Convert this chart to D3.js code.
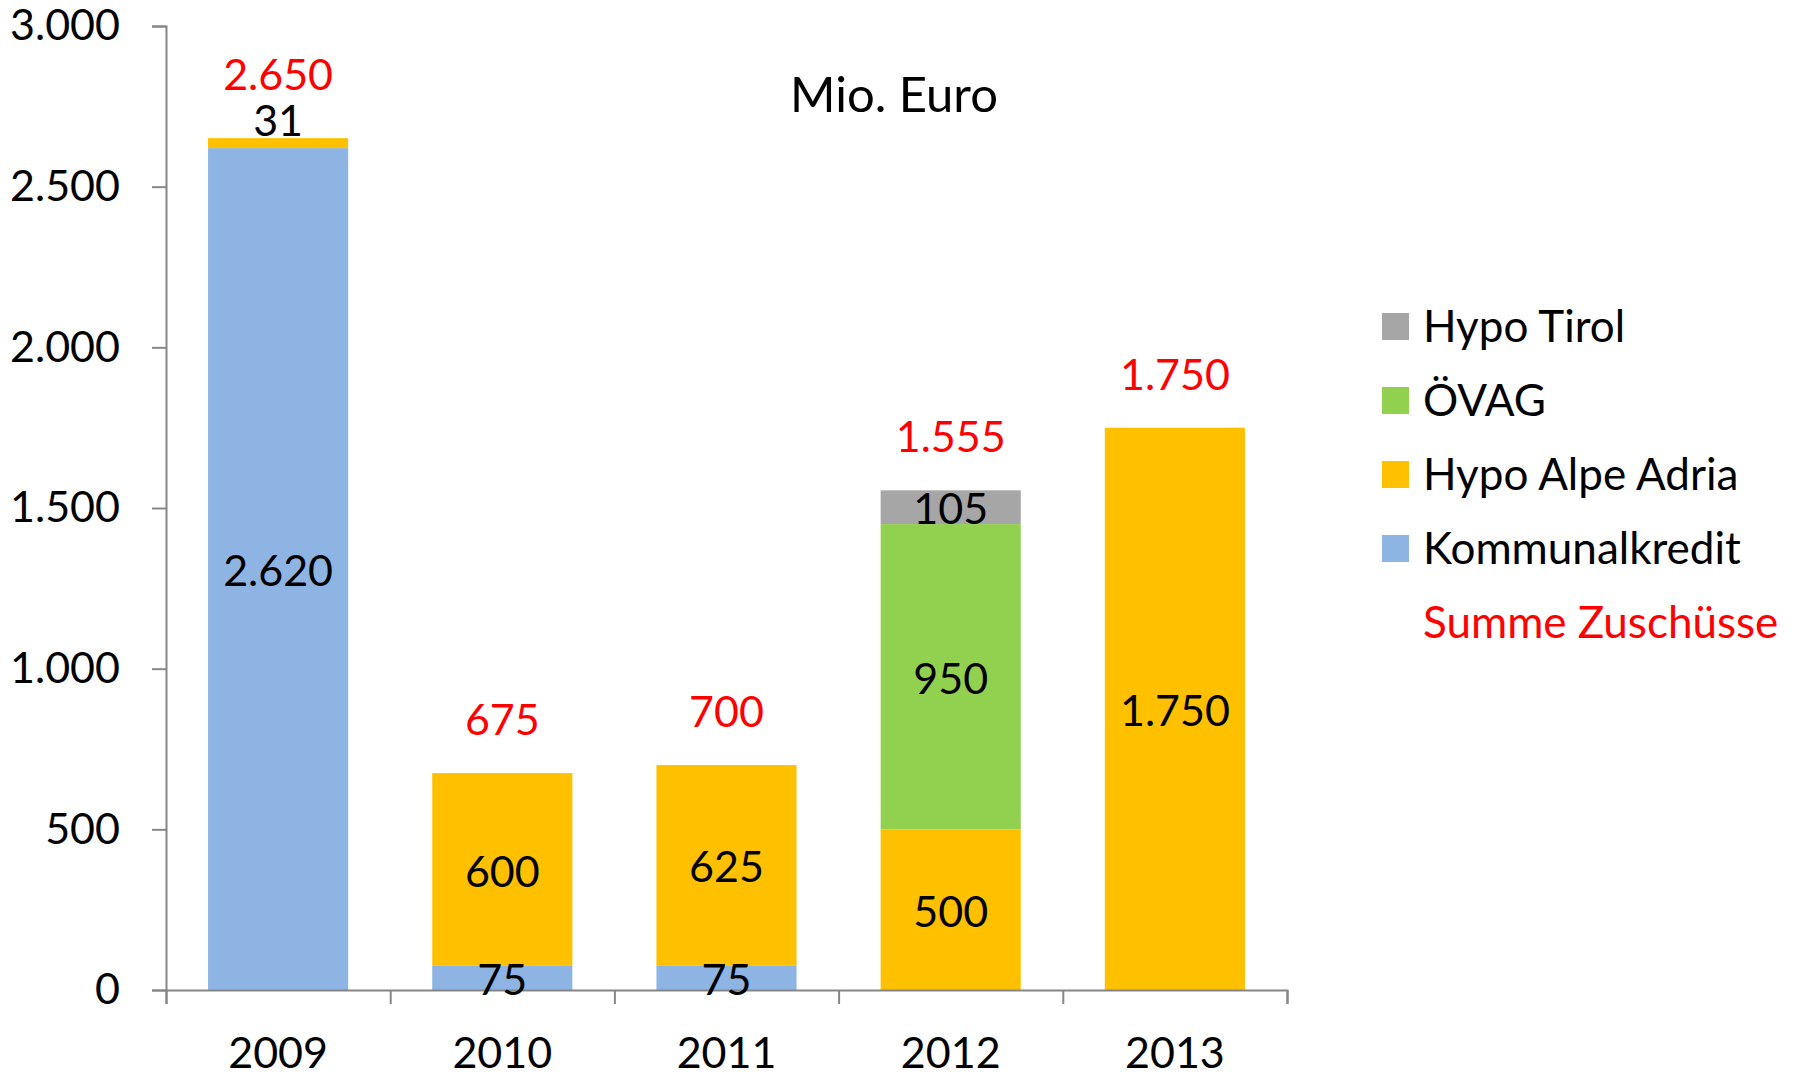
<!DOCTYPE html>
<html lang="de">
<head>
<meta charset="utf-8">
<script src="https://d3js.org/d3.v7.min.js"></script>
<style>
  body { margin: 0; background: #fff; }
  text { font-family: Lato, "Open Sans", sans-serif; }
</style>
</head>
<body>
<div id="chart"></div>
<script>
// data (Mio. Euro)
const years = ["2009", "2010", "2011", "2012", "2013"];
const seriesNames = ["Kommunalkredit", "Hypo Alpe Adria", "ÖVAG", "Hypo Tirol"];
const kommunalkredit = [2620, 75, 75, 0, 0];
const hypoAlpeAdria = [31, 600, 625, 500, 1750];
const oevag = [0, 0, 0, 950, 0];
const hypoTirol = [0, 0, 0, 105, 0];
const totals = [2650, 675, 700, 1555, 1750];
const yTicks = [0, 500, 1000, 1500, 2000, 2500, 3000];
const colors = ["#8EB4E3", "#FFC000", "#92D050", "#A6A6A6"];

const W = 1797, H = 1073;
const margin = {top: 26, right: 510, bottom: 83, left: 166};
const width = W - margin.left - margin.right;
const height = H - margin.top - margin.bottom;

const de = d3.formatLocale({decimal: ",", thousands: ".", grouping: [3], currency: ["", " €"]});
const fmt = de.format(",");

const svg = d3.select("#chart").append("svg")
  .attr("width", W).attr("height", H)
  .append("g")
  .attr("transform", "translate(" + margin.left + "," + margin.top + ")");

const x = d3.scaleBand().domain(years).range([0, width])
  .paddingInner(0.375).paddingOuter(0.1875);
const y = d3.scaleLinear().domain([0, 3000]).range([height, 0]);

// build rows for stacking
const rows = years.map(function(yr, i) {
  return {year: yr, "Kommunalkredit": kommunalkredit[i], "Hypo Alpe Adria": hypoAlpeAdria[i],
          "ÖVAG": oevag[i], "Hypo Tirol": hypoTirol[i], total: totals[i]};
});
const stacked = d3.stack().keys(seriesNames)(rows);

// bars
const layers = svg.selectAll(".layer").data(stacked).enter().append("g")
  .attr("fill", function(d, i) { return colors[i]; });
layers.selectAll("rect").data(function(d) { return d; }).enter().append("rect")
  .attr("x", function(d) { return x(d.data.year); })
  .attr("y", function(d) { return y(d[1]); })
  .attr("width", x.bandwidth())
  .attr("height", function(d) { return y(d[0]) - y(d[1]); });

// axes
const yAxis = svg.append("g")
  .call(d3.axisLeft(y).tickValues(yTicks).tickSize(14).tickPadding(32).tickFormat(fmt));
const xLine = d3.scaleLinear().domain([0, years.length]).range([0, width]);
const xAxis = svg.append("g").attr("transform", "translate(0," + height + ")")
  .call(d3.axisBottom(xLine).tickValues(d3.range(years.length + 1)).tickSize(14).tickFormat(""));
const xLabels = svg.append("g").attr("transform", "translate(0," + height + ")")
  .call(d3.axisBottom(x).tickSize(0).tickPadding(47));
xLabels.select(".domain").remove();

[yAxis, xAxis].forEach(function(a) {
  a.selectAll("path, line").attr("stroke", "#868686").attr("stroke-width", 2);
});
[yAxis, xLabels].forEach(function(a) {
  a.selectAll("text").attr("font-size", 43).attr("fill", "#000")
    .style("font-family", "Lato, 'Open Sans', sans-serif");
});

// segment labels (drawn after all bars so nothing covers them)
const segLabels = svg.append("g");
stacked.forEach(function(s) {
  segLabels.selectAll("text.s" + s.index).data(s.filter(function(d) { return d[1] - d[0] > 0; }))
    .enter().append("text")
    .attr("x", function(d) { return x(d.data.year) + x.bandwidth() / 2; })
    .attr("y", function(d) {
      const h = y(d[0]) - y(d[1]);
      if (h < 20) return y(d[1]) - 2;
      return (y(d[0]) + y(d[1])) / 2 + 17;
    })
    .attr("text-anchor", "middle")
    .attr("font-size", 43)
    .attr("fill", "#000")
    .text(function(d) { return fmt(d[1] - d[0]); });
});

// totals
svg.selectAll("text.total").data(rows).enter().append("text")
  .attr("class", "total")
  .attr("x", function(d) { return x(d.year) + x.bandwidth() / 2; })
  .attr("y", function(d) {
    const top = y(d3.sum(seriesNames, function(k) { return d[k]; }));
    const topKey = seriesNames.filter(function(k) { return d[k] > 0; }).pop();
    const small = y(0) - y(d[topKey]) < 20;
    return top - (small ? 48 : 38);
  })
  .attr("text-anchor", "middle")
  .attr("font-size", 43)
  .attr("fill", "#FF0000")
  .text(function(d) { return fmt(d.total); });

// title
svg.append("text")
  .attr("x", 728).attr("y", 112 - margin.top)
  .attr("text-anchor", "middle")
  .attr("font-size", 49)
  .text("Mio. Euro");

// legend
const legendItems = seriesNames.slice().reverse();
const legend = svg.append("g").attr("transform", "translate(" + (1382 - margin.left) + "," + (313 - margin.top) + ")");
legend.selectAll("rect").data(legendItems).enter().append("rect")
  .attr("x", 0).attr("y", function(d, i) { return i * 74; })
  .attr("width", 27).attr("height", 27)
  .attr("fill", function(d) { return colors[seriesNames.indexOf(d)]; });
legend.selectAll("text.leg").data(legendItems.concat(["Summe Zuschüsse"])).enter().append("text")
  .attr("class", "leg")
  .attr("x", 41).attr("y", function(d, i) { return i * 74 + 29; })
  .attr("font-size", 44)
  .attr("fill", function(d) { return d === "Summe Zuschüsse" ? "#FF0000" : "#000"; })
  .text(function(d) { return d; });
</script>
</body>
</html>
